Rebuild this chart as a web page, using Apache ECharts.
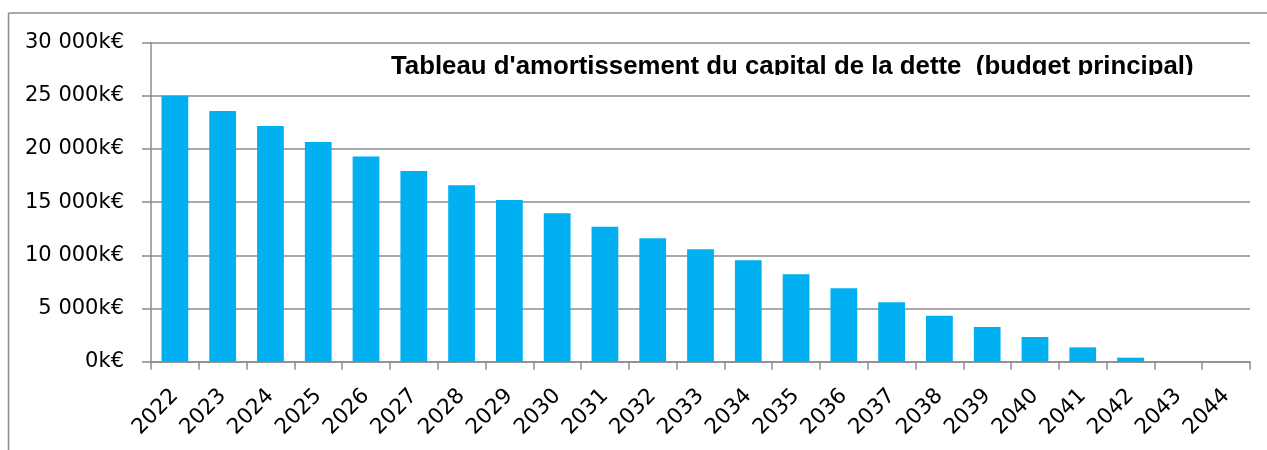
<!DOCTYPE html>
<html>
<head>
<meta charset="utf-8">
<script src="https://cdn.jsdelivr.net/npm/echarts@6/dist/echarts.min.js"></script>
<style>
  html, body { margin: 0; padding: 0; background: #fff; }
  #chart { width: 1267px; height: 450px; }
</style>
</head>
<body>
<div id="chart"></div>
<script>
  const years = ['2022', '2023', '2024', '2025', '2026', '2027', '2028', '2029', '2030', '2031', '2032',
    '2033', '2034', '2035', '2036', '2037', '2038', '2039', '2040', '2041', '2042', '2043', '2044']
  // capital restant dû, en k€
  const capital = [25000, 23560, 22150, 20650, 19280, 17920, 16580, 15200, 13950, 12690, 11600,
    10560, 9530, 8210, 6900, 5580, 4320, 3260, 2320, 1350, 380, 0, 0]
  const titleText = "Tableau d'amortissement du capital de la dette  (budget principal)"

  const gray = '#8c8c8c'
  const font = 'DejaVu Sans'

  const chart = echarts.init(document.getElementById('chart'))
  chart.setOption({
    animation: false,
    title: {
      text: titleText,
      left: 386,
      top: 49,
      textStyle: {
        fontFamily: 'Liberation Sans',
        fontWeight: 'bold',
        fontSize: 25.8,
        color: '#000'
      }
    },
    grid: {
      left: 151,
      right: 17,
      top: 42.5,
      bottom: 88.3
    },
    xAxis: {
      type: 'category',
      data: years,
      axisLine: { lineStyle: { color: gray, width: 1.5 } },
      axisTick: { show: true, length: 8, lineStyle: { color: gray, width: 1.5 } },
      axisLabel: {
        rotate: 45,
        margin: 31,
        color: '#000',
        fontFamily: font,
        fontSize: 21.5
      }
    },
    yAxis: {
      type: 'value',
      min: 0,
      max: 30000,
      interval: 5000,
      axisLine: { show: true, lineStyle: { color: gray, width: 1.5 } },
      axisTick: { show: true, length: 9, lineStyle: { color: gray, width: 1.5 } },
      splitLine: { lineStyle: { color: gray, width: 1.5 } },
      axisLabel: {
        margin: 27,
        color: '#000',
        fontFamily: font,
        fontSize: 21,
        formatter: v => v.toString().replace(/\B(?=(\d{3})+(?!\d))/g, ' ') + 'k€'
      }
    },
    series: [{
      type: 'bar',
      data: capital,
      barWidth: '56%',
      itemStyle: {
        color: '#00B0F0'
      }
    }],
    graphic: [
      // cadre extérieur
      { type: 'line', shape: { x1: 8.5, y1: 13, x2: 1267, y2: 13 }, style: { stroke: gray, lineWidth: 1.5 }, z: 50 },
      { type: 'line', shape: { x1: 8.5, y1: 13, x2: 8.5, y2: 450 }, style: { stroke: gray, lineWidth: 1.5 }, z: 50 },
      // le titre est coupé en bas dans l'original
      { type: 'rect', shape: { x: 370, y: 75, width: 870, height: 19.5 }, style: { fill: '#fff' }, z: 100 }
    ]
  })
</script>
</body>
</html>
